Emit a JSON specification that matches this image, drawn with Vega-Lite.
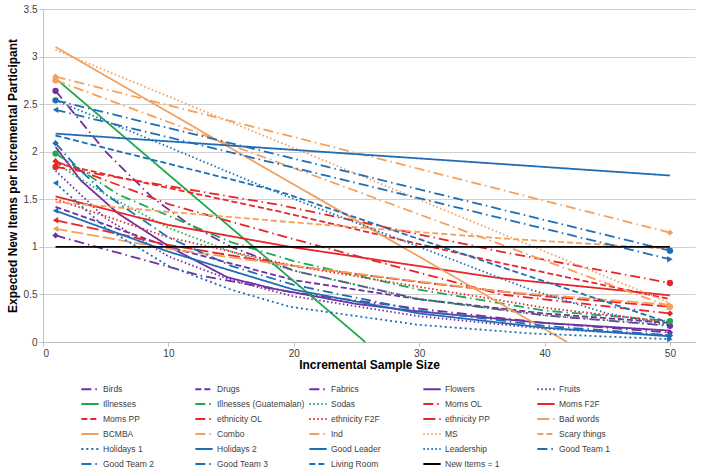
{
  "$schema": "https://vega.github.io/schema/vega-lite/v6.json",
  "width": 652,
  "height": 333,
  "autosize": "none",
  "padding": {"left": 43, "top": 9, "right": 14, "bottom": 127},
  "background": "white",
  "config": {
    "view": {"stroke": null},
    "font": "'Liberation Sans', Arial, sans-serif"
  },
  "data": {"values": [
    {"s": "Birds", "x": 1, "y": 2.64}, {"s": "Birds", "x": 5, "y": 2.0}, {"s": "Birds", "x": 8.7, "y": 1.52}, {"s": "Birds", "x": 11.5, "y": 1.25}, {"s": "Birds", "x": 15, "y": 1.0}, {"s": "Birds", "x": 20, "y": 0.75}, {"s": "Birds", "x": 30, "y": 0.45}, {"s": "Birds", "x": 40, "y": 0.28}, {"s": "Birds", "x": 50, "y": 0.17},
    {"s": "Drugs", "x": 1, "y": 1.42}, {"s": "Drugs", "x": 10, "y": 1.0}, {"s": "Drugs", "x": 20, "y": 0.65}, {"s": "Drugs", "x": 30, "y": 0.45}, {"s": "Drugs", "x": 40, "y": 0.3}, {"s": "Drugs", "x": 50, "y": 0.2},
    {"s": "Fabrics", "x": 1, "y": 1.12}, {"s": "Fabrics", "x": 12.5, "y": 0.7}, {"s": "Fabrics", "x": 20, "y": 0.52}, {"s": "Fabrics", "x": 30, "y": 0.35}, {"s": "Fabrics", "x": 40, "y": 0.2}, {"s": "Fabrics", "x": 50, "y": 0.1},
    {"s": "Flowers", "x": 1, "y": 2.05}, {"s": "Flowers", "x": 3, "y": 1.7}, {"s": "Flowers", "x": 6, "y": 1.35}, {"s": "Flowers", "x": 10.1, "y": 1.0}, {"s": "Flowers", "x": 14.7, "y": 0.68}, {"s": "Flowers", "x": 18.4, "y": 0.56}, {"s": "Flowers", "x": 25, "y": 0.4}, {"s": "Flowers", "x": 30, "y": 0.32}, {"s": "Flowers", "x": 40, "y": 0.2}, {"s": "Flowers", "x": 50, "y": 0.12},
    {"s": "Fruits", "x": 1, "y": 1.8}, {"s": "Fruits", "x": 5, "y": 1.3}, {"s": "Fruits", "x": 10, "y": 0.9}, {"s": "Fruits", "x": 15, "y": 0.65}, {"s": "Fruits", "x": 20, "y": 0.48}, {"s": "Fruits", "x": 30, "y": 0.27}, {"s": "Fruits", "x": 40, "y": 0.14}, {"s": "Fruits", "x": 50, "y": 0.07},
    {"s": "Illnesses", "x": 1, "y": 2.77}, {"s": "Illnesses", "x": 25.7, "y": 0},
    {"s": "Illnesses (Guatemalan)", "x": 1, "y": 1.98}, {"s": "Illnesses (Guatemalan)", "x": 6, "y": 1.55}, {"s": "Illnesses (Guatemalan)", "x": 15, "y": 1.05}, {"s": "Illnesses (Guatemalan)", "x": 20, "y": 0.85}, {"s": "Illnesses (Guatemalan)", "x": 30, "y": 0.55}, {"s": "Illnesses (Guatemalan)", "x": 40, "y": 0.33}, {"s": "Illnesses (Guatemalan)", "x": 50, "y": 0.22},
    {"s": "Sodas", "x": 1, "y": 1.88}, {"s": "Sodas", "x": 5, "y": 1.55}, {"s": "Sodas", "x": 10, "y": 1.2}, {"s": "Sodas", "x": 15, "y": 0.95}, {"s": "Sodas", "x": 20, "y": 0.75}, {"s": "Sodas", "x": 30, "y": 0.45}, {"s": "Sodas", "x": 40, "y": 0.28}, {"s": "Sodas", "x": 50, "y": 0.18},
    {"s": "Moms OL", "x": 1, "y": 1.84}, {"s": "Moms OL", "x": 18.9, "y": 1.44}, {"s": "Moms OL", "x": 36.5, "y": 0.95}, {"s": "Moms OL", "x": 50, "y": 0.62},
    {"s": "Moms F2F", "x": 1, "y": 1.53}, {"s": "Moms F2F", "x": 10, "y": 1.23}, {"s": "Moms F2F", "x": 19.7, "y": 1.0}, {"s": "Moms F2F", "x": 36.5, "y": 0.67}, {"s": "Moms F2F", "x": 50, "y": 0.49},
    {"s": "Moms PP", "x": 1, "y": 1.88}, {"s": "Moms PP", "x": 7.5, "y": 1.69}, {"s": "Moms PP", "x": 18.9, "y": 1.37}, {"s": "Moms PP", "x": 36.5, "y": 0.83}, {"s": "Moms PP", "x": 50, "y": 0.45},
    {"s": "ethnicity OL", "x": 1, "y": 1.9}, {"s": "ethnicity OL", "x": 10, "y": 1.45}, {"s": "ethnicity OL", "x": 20, "y": 1.08}, {"s": "ethnicity OL", "x": 36.5, "y": 0.5}, {"s": "ethnicity OL", "x": 50, "y": 0.3},
    {"s": "ethnicity F2F", "x": 1, "y": 1.5}, {"s": "ethnicity F2F", "x": 10, "y": 1.1}, {"s": "ethnicity F2F", "x": 20, "y": 0.8}, {"s": "ethnicity F2F", "x": 30, "y": 0.58}, {"s": "ethnicity F2F", "x": 40, "y": 0.36}, {"s": "ethnicity F2F", "x": 50, "y": 0.21},
    {"s": "ethnicity PP", "x": 1, "y": 1.28}, {"s": "ethnicity PP", "x": 10, "y": 1.02}, {"s": "ethnicity PP", "x": 20, "y": 0.8}, {"s": "ethnicity PP", "x": 30, "y": 0.63}, {"s": "ethnicity PP", "x": 40, "y": 0.48}, {"s": "ethnicity PP", "x": 50, "y": 0.37},
    {"s": "Bad words", "x": 1, "y": 1.19}, {"s": "Bad words", "x": 10, "y": 0.98}, {"s": "Bad words", "x": 20, "y": 0.8}, {"s": "Bad words", "x": 36.5, "y": 0.53}, {"s": "Bad words", "x": 50, "y": 0.39},
    {"s": "BCMBA", "x": 1, "y": 3.1}, {"s": "BCMBA", "x": 41.8, "y": 0},
    {"s": "Combo", "x": 1, "y": 2.79}, {"s": "Combo", "x": 50, "y": 1.15},
    {"s": "Ind", "x": 1, "y": 2.75}, {"s": "Ind", "x": 50, "y": 0.37},
    {"s": "MS", "x": 1, "y": 3.07}, {"s": "MS", "x": 50, "y": 0.41},
    {"s": "Scary things", "x": 1, "y": 1.47}, {"s": "Scary things", "x": 19.7, "y": 1.26}, {"s": "Scary things", "x": 36.5, "y": 1.09}, {"s": "Scary things", "x": 50, "y": 0.98},
    {"s": "Holidays 1", "x": 1, "y": 1.67}, {"s": "Holidays 1", "x": 5, "y": 1.2}, {"s": "Holidays 1", "x": 10, "y": 0.8}, {"s": "Holidays 1", "x": 15, "y": 0.55}, {"s": "Holidays 1", "x": 19.7, "y": 0.37}, {"s": "Holidays 1", "x": 30, "y": 0.18}, {"s": "Holidays 1", "x": 38.9, "y": 0.09}, {"s": "Holidays 1", "x": 50, "y": 0.03},
    {"s": "Holidays 2", "x": 1, "y": 1.38}, {"s": "Holidays 2", "x": 10, "y": 0.95}, {"s": "Holidays 2", "x": 20, "y": 0.55}, {"s": "Holidays 2", "x": 30, "y": 0.3}, {"s": "Holidays 2", "x": 40, "y": 0.15}, {"s": "Holidays 2", "x": 50, "y": 0.06},
    {"s": "Good Leader", "x": 1, "y": 2.19}, {"s": "Good Leader", "x": 50, "y": 1.75},
    {"s": "Leadership", "x": 1, "y": 2.54}, {"s": "Leadership", "x": 10, "y": 2.05}, {"s": "Leadership", "x": 18.9, "y": 1.56}, {"s": "Leadership", "x": 30, "y": 1.0}, {"s": "Leadership", "x": 38.9, "y": 0.55}, {"s": "Leadership", "x": 45, "y": 0.3}, {"s": "Leadership", "x": 50, "y": 0.18},
    {"s": "Good Team 1", "x": 1, "y": 2.44}, {"s": "Good Team 1", "x": 50, "y": 0.87},
    {"s": "Good Team 2", "x": 1, "y": 2.54}, {"s": "Good Team 2", "x": 50, "y": 0.96},
    {"s": "Good Team 3", "x": 1, "y": 2.09}, {"s": "Good Team 3", "x": 2.4, "y": 1.88}, {"s": "Good Team 3", "x": 5, "y": 1.55}, {"s": "Good Team 3", "x": 10, "y": 1.1}, {"s": "Good Team 3", "x": 15, "y": 0.8}, {"s": "Good Team 3", "x": 20, "y": 0.6}, {"s": "Good Team 3", "x": 30, "y": 0.33}, {"s": "Good Team 3", "x": 40, "y": 0.17}, {"s": "Good Team 3", "x": 50, "y": 0.07},
    {"s": "Living Room", "x": 1, "y": 2.17}, {"s": "Living Room", "x": 18.9, "y": 1.58}, {"s": "Living Room", "x": 36.5, "y": 0.79}, {"s": "Living Room", "x": 50, "y": 0.2},
    {"s": "New Items = 1", "x": 1, "y": 1}, {"s": "New Items = 1", "x": 50, "y": 1}
  ]},
  "encoding": {
    "x": {"field": "x", "type": "quantitative", "title": "Incremental Sample Size",
      "scale": {"domain": [0, 52], "nice": false},
      "axis": {"values": [0, 10, 20, 30, 40, 50], "grid": false, "domainColor": "#BFBFBF", "tickColor": "#BFBFBF", "tickSize": 4, "labelFontSize": 10, "labelColor": "#404040", "titleFontSize": 12, "titleFontWeight": "bold", "titleColor": "#000000", "titlePadding": 1, "labelPadding": 2}},
    "y": {"field": "y", "type": "quantitative", "title": "Expected New Items per Incremental Participant",
      "scale": {"domain": [0, 3.5], "nice": false},
      "axis": {"values": [0, 0.5, 1, 1.5, 2, 2.5, 3, 3.5], "format": "~g", "grid": true, "gridColor": "#D0D0D0", "domainColor": "#BFBFBF", "tickColor": "#BFBFBF", "tickSize": 4, "labelFontSize": 10, "labelColor": "#404040", "titleFontSize": 12, "titleFontWeight": "bold", "titleColor": "#000000", "titlePadding": 4, "labelPadding": 2}}
  },
  "layer": [
    {
      "mark": {"type": "line", "strokeWidth": 1.8},
      "encoding": {
        "color": {"field": "s", "type": "nominal",
          "scale": {
            "domain": ["Birds", "Drugs", "Fabrics", "Flowers", "Fruits", "Illnesses", "Illnesses (Guatemalan)", "Sodas", "Moms OL", "Moms F2F", "Moms PP", "ethnicity OL", "ethnicity F2F", "ethnicity PP", "Bad words", "BCMBA", "Combo", "Ind", "MS", "Scary things", "Holidays 1", "Holidays 2", "Good Leader", "Leadership", "Good Team 1", "Good Team 2", "Good Team 3", "Living Room", "New Items = 1"],
            "range": ["#7030A0", "#7030A0", "#7030A0", "#7030A0", "#7030A0", "#1FA84F", "#1FA84F", "#1FA84F", "#E8262A", "#E8262A", "#E8262A", "#E8262A", "#E8262A", "#E8262A", "#F4A05C", "#F4A05C", "#F4A05C", "#F4A05C", "#F4A05C", "#F4A05C", "#1F6EB5", "#1F6EB5", "#1F6EB5", "#1F6EB5", "#1F6EB5", "#1F6EB5", "#1F6EB5", "#1F6EB5", "#000000"]
          },
          "legend": {"orient": "none", "legendX": 37, "legendY": 370, "columns": 5, "direction": "horizontal", "title": null, "symbolType": "stroke", "symbolSize": 300, "symbolStrokeWidth": 2, "labelFontSize": 8.5, "labelColor": "#404040", "gridAlign": "all", "columnPadding": 0, "rowPadding": 0, "labelLimit": 0, "labelOffset": 3}
        },
        "strokeDash": {"field": "s", "type": "nominal",
          "scale": {
            "domain": ["Birds", "Drugs", "Fabrics", "Flowers", "Fruits", "Illnesses", "Illnesses (Guatemalan)", "Sodas", "Moms OL", "Moms F2F", "Moms PP", "ethnicity OL", "ethnicity F2F", "ethnicity PP", "Bad words", "BCMBA", "Combo", "Ind", "MS", "Scary things", "Holidays 1", "Holidays 2", "Good Leader", "Leadership", "Good Team 1", "Good Team 2", "Good Team 3", "Living Room", "New Items = 1"],
            "range": [[10, 4, 1.5, 4], [6, 3], [10, 4, 1.5, 4], [1, 0], [1.5, 2.5], [1, 0], [10, 4, 1.5, 4], [1.5, 2.5], [10, 4, 1.5, 4], [1, 0], [6, 3], [10, 4, 1.5, 4], [1.5, 2.5], [12, 4], [12, 4], [1, 0], [10, 4, 1.5, 4], [10, 4, 1.5, 4], [1.5, 2.5], [6, 3], [2, 3], [1, 0], [1, 0], [1.5, 2.5], [10, 4, 1.5, 4], [10, 4, 1.5, 4], [10, 4, 1.5, 4], [6, 3], [1, 0]]
          }
        }
      }
    },
    {
      "transform": [{"filter": {"field": "x", "equal": 1}}, {"filter": {"field": "s", "oneOf": ["Birds", "Fabrics", "Illnesses (Guatemalan)", "Moms OL", "ethnicity OL", "ethnicity PP", "Bad words", "Combo", "Ind", "Holidays 1", "Holidays 2", "Good Team 1", "Good Team 2", "Good Team 3"]}}],
      "mark": {"type": "point", "filled": true, "opacity": 1, "size": 40, "angle": 270},
      "encoding": {
        "color": {"field": "s", "type": "nominal", "legend": null},
        "shape": {"field": "s", "type": "nominal", "legend": null,
          "scale": {"domain": ["Birds", "Fabrics", "Illnesses (Guatemalan)", "Moms OL", "ethnicity OL", "ethnicity PP", "Bad words", "Combo", "Ind", "Holidays 1", "Holidays 2", "Good Team 1", "Good Team 2", "Good Team 3"],
            "range": ["circle", "diamond", "circle", "circle", "diamond", "triangle-up", "triangle-up", "diamond", "circle", "triangle-up", "triangle-up", "triangle-up", "circle", "diamond"]}}
      }
    },
    {
      "transform": [{"filter": {"field": "x", "equal": 50}}, {"filter": {"field": "s", "oneOf": ["Birds", "Fabrics", "Illnesses (Guatemalan)", "Moms OL", "ethnicity OL", "ethnicity PP", "Bad words", "Combo", "Ind", "Holidays 1", "Holidays 2", "Good Team 1", "Good Team 2", "Good Team 3"]}}],
      "mark": {"type": "point", "filled": true, "opacity": 1, "size": 40, "angle": 90},
      "encoding": {
        "color": {"field": "s", "type": "nominal", "legend": null},
        "shape": {"field": "s", "type": "nominal", "legend": null}
      }
    }
  ]
}
